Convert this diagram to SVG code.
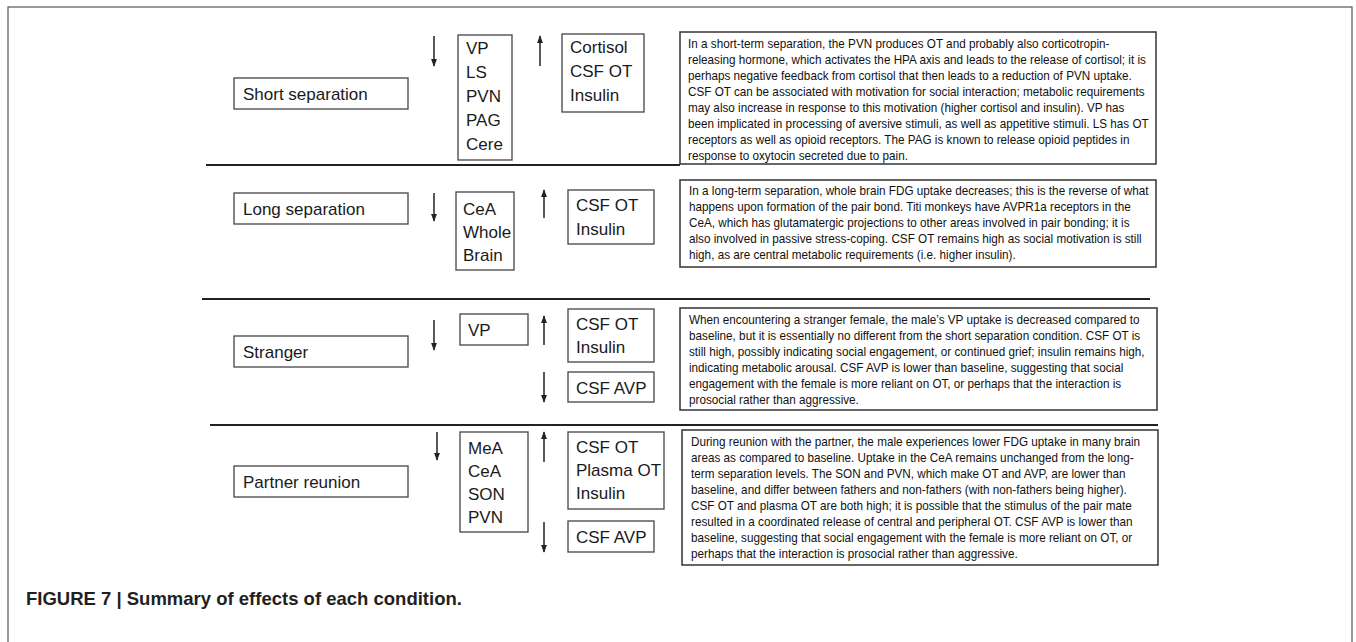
<svg xmlns="http://www.w3.org/2000/svg" width="1356" height="642" viewBox="0 0 1356 642">
<defs>
<marker id="ah" viewBox="0 0 10 10" refX="9" refY="5" markerWidth="8" markerHeight="6" orient="auto" markerUnits="userSpaceOnUse" preserveAspectRatio="none">
<path d="M0,0 L10,5 L0,10 Z" fill="#222"/>
</marker>
<style>
.frame{fill:none;stroke:#555;stroke-width:1.2}
.box{fill:#fff;stroke:#444;stroke-width:1.3}
.tbox{fill:#fff;stroke:#333;stroke-width:1.5}
.lbl{font-family:"Liberation Sans",Arial,sans-serif;font-size:17px;fill:#1a1a1a}
.body{font-family:"Liberation Sans",Arial,sans-serif;font-size:12.6px;fill:#111}
.sep{stroke:#222;stroke-width:2}
.arr{stroke:#222;stroke-width:1.5;fill:none}
.cap{font-family:"Liberation Sans",Arial,sans-serif;font-size:18.5px;font-weight:bold;fill:#231f20}
</style>
</defs>
<rect x="0" y="0" width="1356" height="642" fill="#fff"/>
<rect class="frame" x="8" y="7" width="1344" height="660"/>

<g id="separators">
<line class="sep" x1="206" y1="165" x2="680" y2="165"/>
<line class="sep" x1="202" y1="299" x2="1150" y2="299"/>
<line class="sep" x1="210" y1="425" x2="1158" y2="425"/>
</g>

<g id="connectors">
<line class="arr" x1="434" y1="36" x2="434" y2="66" marker-end="url(#ah)"/>
<line class="arr" x1="540" y1="66" x2="540" y2="36" marker-end="url(#ah)"/>
<line class="arr" x1="434" y1="193" x2="434" y2="221" marker-end="url(#ah)"/>
<line class="arr" x1="544" y1="218" x2="544" y2="190" marker-end="url(#ah)"/>
<line class="arr" x1="434" y1="320" x2="434" y2="350" marker-end="url(#ah)"/>
<line class="arr" x1="544" y1="345" x2="544" y2="316" marker-end="url(#ah)"/>
<line class="arr" x1="544" y1="372" x2="544" y2="402" marker-end="url(#ah)"/>
<line class="arr" x1="437" y1="432" x2="437" y2="460" marker-end="url(#ah)"/>
<line class="arr" x1="544" y1="462" x2="544" y2="432" marker-end="url(#ah)"/>
<line class="arr" x1="544" y1="522" x2="544" y2="552" marker-end="url(#ah)"/>
</g>

<!-- Row 1 -->
<g id="short-separation">
<rect class="box" x="234" y="78" width="174" height="31"/>
<text class="lbl" x="243" y="100">Short separation</text>
</g>
<g id="short-down">
<rect class="box" x="458" y="35" width="54" height="125"/>
<text class="lbl" x="466" y="54">VP</text>
<text class="lbl" x="466" y="78">LS</text>
<text class="lbl" x="466" y="102">PVN</text>
<text class="lbl" x="466" y="126">PAG</text>
<text class="lbl" x="466" y="150">Cere</text>
</g>
<g id="short-up">
<rect class="box" x="562" y="34" width="82" height="78"/>
<text class="lbl" x="570" y="53">Cortisol</text>
<text class="lbl" x="570" y="77">CSF OT</text>
<text class="lbl" x="570" y="101">Insulin</text>
</g>
<g id="short-text">
<rect class="tbox" x="680" y="32" width="476" height="132"/>
<g transform="translate(688,0) scale(0.93,1)" class="body">
<text x="0" y="48">In a short-term  separation, the PVN produces OT and probably also corticotropin-</text>
<text x="0" y="64">releasing hormone,  which activates the HPA axis and leads to the release of cortisol; it is</text>
<text x="0" y="80">perhaps negative feedback from cortisol that then leads to a reduction of PVN uptake.</text>
<text x="0" y="96">CSF OT can be associated with motivation  for social interaction; metabolic requirements</text>
<text x="0" y="112">may also increase in response to this motivation (higher cortisol and insulin).  VP has</text>
<text x="0" y="128">been implicated in processing of aversive stimuli, as well as appetitive stimuli. LS has OT</text>
<text x="0" y="144">receptors as well as opioid receptors. The PAG is known to release opioid peptides in</text>
<text x="0" y="160">response to oxytocin secreted due to pain.</text>
</g>
</g>

<!-- Row 2 -->
<g id="long-separation">
<rect class="box" x="234" y="193" width="174" height="31"/>
<text class="lbl" x="243" y="215">Long separation</text>
</g>
<g id="long-down">
<rect class="box" x="456" y="192" width="58" height="78"/>
<text class="lbl" x="463" y="215">CeA</text>
<text class="lbl" x="463" y="238">Whole</text>
<text class="lbl" x="463" y="261">Brain</text>
</g>
<g id="long-up">
<rect class="box" x="568" y="190" width="86" height="54"/>
<text class="lbl" x="576" y="211">CSF OT</text>
<text class="lbl" x="576" y="235">Insulin</text>
</g>
<g id="long-text">
<rect class="tbox" x="680" y="180" width="476" height="87"/>
<g transform="translate(689,0) scale(0.93,1)" class="body">
<text x="0" y="195">In a long-term separation, whole brain FDG uptake decreases; this is the reverse of what</text>
<text x="0" y="211">happens upon formation of the pair bond.  Titi monkeys have AVPR1a receptors in the</text>
<text x="0" y="227">CeA, which has glutamatergic projections to other areas involved in pair bonding;  it is</text>
<text x="0" y="243">also involved in passive stress-coping.  CSF OT remains high as social motivation is still</text>
<text x="0" y="259">high, as are central metabolic requirements  (i.e. higher insulin).</text>
</g>
</g>

<!-- Row 3 -->
<g id="stranger">
<rect class="box" x="234" y="336" width="174" height="31"/>
<text class="lbl" x="243" y="358">Stranger</text>
</g>
<g id="stranger-down">
<rect class="box" x="460" y="314" width="68" height="31"/>
<text class="lbl" x="468" y="336">VP</text>
</g>
<g id="stranger-up">
<rect class="box" x="568" y="309" width="86" height="53"/>
<text class="lbl" x="576" y="330">CSF OT</text>
<text class="lbl" x="576" y="353">Insulin</text>
</g>
<g id="stranger-down2">
<rect class="box" x="568" y="372" width="86" height="30"/>
<text class="lbl" x="576" y="394">CSF AVP</text>
</g>
<g id="stranger-text">
<rect class="tbox" x="680" y="308" width="477" height="102"/>
<g transform="translate(689,0) scale(0.93,1)" class="body">
<text x="0" y="324">When encountering  a stranger female, the male’s VP uptake is decreased compared to</text>
<text x="0" y="340">baseline, but it is essentially no different from the short separation condition.  CSF OT is</text>
<text x="0" y="356">still high, possibly indicating social engagement, or continued grief; insulin remains high,</text>
<text x="0" y="372">indicating metabolic arousal.  CSF AVP is lower than baseline, suggesting that social</text>
<text x="0" y="388">engagement with the female is more reliant on OT, or perhaps that the interaction is</text>
<text x="0" y="404">prosocial rather than aggressive.</text>
</g>
</g>

<!-- Row 4 -->
<g id="partner-reunion">
<rect class="box" x="234" y="466" width="174" height="31"/>
<text class="lbl" x="243" y="488">Partner reunion</text>
</g>
<g id="reunion-down">
<rect class="box" x="460" y="432" width="68" height="100"/>
<text class="lbl" x="468" y="454">MeA</text>
<text class="lbl" x="468" y="477">CeA</text>
<text class="lbl" x="468" y="500">SON</text>
<text class="lbl" x="468" y="523">PVN</text>
</g>
<g id="reunion-up">
<rect class="box" x="568" y="432" width="96" height="77"/>
<text class="lbl" x="576" y="453">CSF OT</text>
<text class="lbl" x="576" y="476">Plasma OT</text>
<text class="lbl" x="576" y="499">Insulin</text>
</g>
<g id="reunion-down2">
<rect class="box" x="568" y="521" width="86" height="31"/>
<text class="lbl" x="576" y="543">CSF AVP</text>
</g>
<g id="reunion-text">
<rect class="tbox" x="682" y="430" width="476" height="135"/>
<g transform="translate(691,0) scale(0.93,1)" class="body">
<text x="0" y="446">During reunion with the partner, the male experiences lower FDG uptake in many brain</text>
<text x="0" y="462">areas as compared to baseline. Uptake in the CeA remains unchanged from the long-</text>
<text x="0" y="478">term separation levels. The SON and PVN, which make OT and AVP, are lower than</text>
<text x="0" y="494">baseline, and differ between fathers and non-fathers (with non-fathers being higher).</text>
<text x="0" y="510">CSF OT and plasma OT are both high; it is possible that the stimulus of the pair mate</text>
<text x="0" y="526">resulted in a coordinated release of central and peripheral OT. CSF AVP is lower than</text>
<text x="0" y="542">baseline, suggesting that social engagement with the female is more reliant on OT, or</text>
<text x="0" y="558">perhaps that the interaction is prosocial rather than aggressive.</text>
</g>
</g>

<text class="cap" x="26" y="605">FIGURE 7 | Summary of effects of each condition.</text>
</svg>
